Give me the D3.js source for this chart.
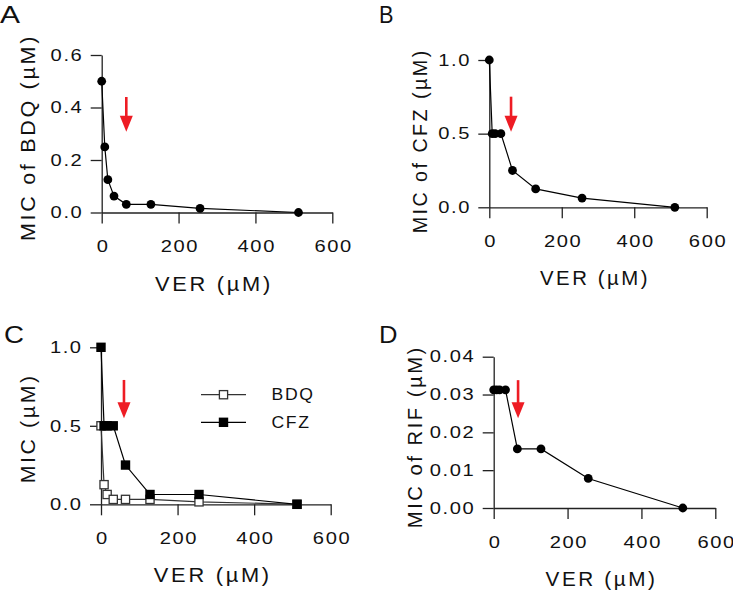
<!DOCTYPE html>
<html><head><meta charset="utf-8">
<script src="https://cdn.jsdelivr.net/npm/d3@7"></script>
<style>
html,body{margin:0;padding:0;background:#fff;}
svg{display:block;}
</style></head>
<body>
<svg id="chart" width="733" height="590"></svg>
<script>
// ---------- data ----------
const ver = [0, 8, 16, 32, 64, 128, 256, 512];
const micBDQ = [0.5, 0.25, 0.125, 0.0625, 0.03125, 0.03125, 0.015625, 0];
const micCFZ = [1, 0.5, 0.5, 0.5, 0.25, 0.125, 0.0625, 0];
const comboBDQ = [0.5, 0.125, 0.0625, 0.03125, 0.03125, 0.03125, 0.015625, 0];
const comboCFZ = [1, 0.5, 0.5, 0.5, 0.25, 0.0625, 0.0625, 0];
const micRIF = [0.03125, 0.03125, 0.03125, 0.03125, 0.015625, 0.015625, 0.0078125, 0];
const xTicks = [0, 200, 400, 600];
const yTicksA = [0, 0.2, 0.4, 0.6];
const yTicksB = [0, 0.5, 1.0];
const yTicksC = [0, 0.5, 1.0];
const yTicksD = [0, 0.01, 0.02, 0.03, 0.04];
const legendLabels = ["BDQ", "CFZ"];
const panelLetters = ["A", "B", "C", "D"];
const yTitles = ["MIC of BDQ (\u00b5M)", "MIC of CFZ (\u00b5M)", "MIC (\u00b5M)", "MIC of RIF (\u00b5M)"];
const xTitle = "VER (\u00b5M)";
// arrow annotations: [VER position, top value, tip value]
const arrowA = [64, 0.44, 0.308];
const arrowB = [60, 0.751, 0.513];
const arrowC = [60, 0.792, 0.548];
const arrowD = [66, 0.0338, 0.0237];

// ---------- drawing ----------
const svg = d3.select("#chart");
const FONT = "'Liberation Sans', Arial, sans-serif";
const AXIS = "#222";

// widen glyphs and gaps together
function widen(sel, ls, k) {
  sel.attr("letter-spacing", ls + "px").each(function () {
    const w = this.getComputedTextLength();
    this.setAttribute("textLength", w * k);
    this.setAttribute("lengthAdjust", "spacingAndGlyphs");
  });
}
function fitLength(sel, ls, len) {
  sel.attr("letter-spacing", ls + "px").attr("textLength", len).attr("lengthAdjust", "spacingAndGlyphs");
}

function drawPanel(p) {
  const g = svg.append("g");
  const x = d3.scaleLinear().domain([0, 600]).range([p.x0, p.x1]);
  const y = d3.scaleLinear().domain([0, p.ymax]).range([p.y0, p.y1]);

  const xa = g.append("g").attr("transform", `translate(0,${p.y0})`)
    .call(d3.axisBottom(x).tickValues(xTicks).tickSize(11).tickSizeOuter(0).tickPadding(17).tickFormat(d3.format("d")));
  const ya = g.append("g").attr("transform", `translate(${p.x0},0)`)
    .call(d3.axisLeft(y).tickValues(p.yTicks).tickSize(11).tickSizeOuter(0).tickPadding(9).tickFormat(d3.format(p.fmt)));
  [xa, ya].forEach(a => {
    a.selectAll("path,line").attr("stroke", AXIS).attr("stroke-width", 1.3);
    a.selectAll("text").attr("font-family", FONT).attr("font-size", 16.5).attr("fill", "#111");
  });
  widen(xa.selectAll("text").attr("dx", "0.05em"), 1.3, 1.22);
  widen(ya.selectAll("text").attr("dx", "0.1em"), 1.3, 1.22);

  g.append("text").attr("x", (p.x0 + p.x1) / 2 - 3).attr("y", p.y0 + 78)
    .attr("text-anchor", "middle").attr("font-family", FONT).attr("font-size", 20).attr("fill", "#111")
    .text(xTitle).call(fitLength, 2.5, p.xtl);
  g.append("text").attr("transform", `translate(${p.ytx},${p.yty}) rotate(-90)`)
    .attr("text-anchor", "middle").attr("font-family", FONT).attr("font-size", 20).attr("fill", "#111")
    .text(p.ytitle).call(fitLength, 2.5, p.ytl);

  g.append("text").attr("x", p.lx).attr("y", p.ly).attr("font-family", FONT)
    .attr("font-size", 23).attr("fill", "#111").text(p.letter)
    .attr("textLength", p.lw).attr("lengthAdjust", "spacingAndGlyphs");

  const line = d3.line().x(d => x(d[0])).y(d => y(d[1]));
  p.series.forEach(s => {
    const pts = ver.map((v, i) => [v, s.values[i]]);
    g.append("path").datum(pts).attr("d", line).attr("fill", "none")
      .attr("stroke", s.stroke).attr("stroke-width", 1.2);
    if (s.shape === "circle") {
      g.selectAll(null).data(pts).join("circle")
        .attr("cx", d => x(d[0])).attr("cy", d => y(d[1])).attr("r", 4.4).attr("fill", "#000");
    } else {
      const sz = s.open ? 8.2 : 9.4;
      g.selectAll(null).data(pts).join("rect")
        .attr("x", d => x(d[0]) - sz / 2).attr("y", d => y(d[1]) - sz / 2)
        .attr("width", sz).attr("height", sz)
        .attr("fill", s.open ? "#fff" : "#000")
        .attr("stroke", s.open ? "#333" : "none").attr("stroke-width", 1.3);
    }
  });

  const ax = x(p.arrow[0]), at = y(p.arrow[1]), ab = y(p.arrow[2]);
  g.append("line").attr("x1", ax).attr("x2", ax).attr("y1", at).attr("y2", ab - 12)
    .attr("stroke", "#ee1c24").attr("stroke-width", 2.6);
  g.append("path").attr("d", `M${ax - 6.5},${ab - 16} L${ax + 6.5},${ab - 16} L${ax},${ab} Z`).attr("fill", "#ee1c24");

  if (p.legend) {
    p.series.forEach((s, i) => {
      const ly = p.legend.y + i * p.legend.dy;
      g.append("line").attr("x1", p.legend.x).attr("x2", p.legend.x + 45).attr("y1", ly).attr("y2", ly)
        .attr("stroke", s.stroke).attr("stroke-width", 1.2);
      const sz = s.open ? 8.2 : 9.4;
      g.append("rect").attr("x", p.legend.x + 22.5 - sz / 2).attr("y", ly - sz / 2).attr("width", sz).attr("height", sz)
        .attr("fill", s.open ? "#fff" : "#000").attr("stroke", s.open ? "#333" : "none").attr("stroke-width", 1.3);
      g.append("text").attr("x", p.legend.x + 70.5).attr("y", ly).attr("dy", "0.36em")
        .attr("font-family", FONT).attr("font-size", 16).attr("fill", "#111")
        .text(legendLabels[i]).call(widen, 1.5, 1.1);
    });
  }
}

drawPanel({
  letter: panelLetters[0], lx: 0, ly: 22.5, lw: 20,
  x0: 101.7, x1: 332.3, y0: 212.5, y1: 55, ymax: 0.6, yTicks: yTicksA, fmt: ".1f",
  ytitle: yTitles[0], ytx: 35, yty: 137.5, ytl: 207, xtl: 118,
  arrow: arrowA,
  series: [{ values: micBDQ, shape: "circle", stroke: "#000" }]
});
drawPanel({
  letter: panelLetters[1], lx: 379, ly: 23, lw: 14.5,
  x0: 489.3, x1: 706.7, y0: 207.3, y1: 60, ymax: 1.0, yTicks: yTicksB, fmt: ".1f",
  ytitle: yTitles[1], ytx: 427, yty: 140.8, ytl: 185, xtl: 110,
  arrow: arrowB,
  series: [{ values: micCFZ, shape: "circle", stroke: "#000" }]
});
drawPanel({
  letter: panelLetters[2], lx: 4, ly: 343, lw: 20,
  x0: 101, x1: 330.7, y0: 504.3, y1: 347.3, ymax: 1.0, yTicks: yTicksC, fmt: ".1f",
  ytitle: yTitles[2], ytx: 35, yty: 428.3, ytl: 110, xtl: 118,
  arrow: arrowC,
  legend: { x: 201, y: 394.7, dy: 27.6 },
  series: [
    { values: comboBDQ, shape: "square", open: true, stroke: "#333" },
    { values: comboCFZ, shape: "square", open: false, stroke: "#000" }
  ]
});
drawPanel({
  letter: panelLetters[3], lx: 379, ly: 343.3, lw: 18.5,
  x0: 493.7, x1: 715.3, y0: 508, y1: 356.7, ymax: 0.04, yTicks: yTicksD, fmt: ".2f",
  ytitle: yTitles[3], ytx: 421.7, yty: 436.7, ytl: 183, xtl: 112,
  arrow: arrowD,
  series: [{ values: micRIF, shape: "circle", stroke: "#000" }]
});
</script>
</body></html>
